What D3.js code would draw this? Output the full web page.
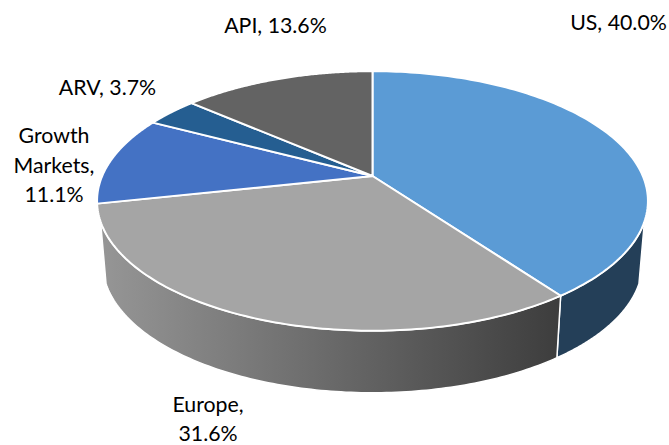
<!DOCTYPE html>
<html>
<head>
<meta charset="utf-8">
<script src="https://cdn.jsdelivr.net/npm/d3@7"></script>
<style>
  html, body { margin: 0; padding: 0; background: #fff; }
  text { font-family: Lato, "Open Sans", sans-serif; font-size: 21.3px; fill: #000; }
</style>
</head>
<body>
<div id="chart"></div>
<script>
const categories = ["US", "Europe", "Growth Markets", "ARV", "API"];
const shares = [40.0, 31.6, 11.1, 3.7, 13.6];
const topColors = ["#5b9bd5", "#a5a5a5", "#4472c4", "#255e91", "#636363"];
const labelLines = [["US, 40.0%"], ["Europe,", "31.6%"], ["Growth", "Markets,", "11.1%"], ["ARV, 3.7%"], ["API, 13.6%"]];

const width = 669, height = 445;
const cx = 372.5, cy = 176;
const rx = 270.3, ry = 125, tilt = 0.1923;
const depth = 62, baseScale = 0.98;

const svg = d3.select("#chart").append("svg")
    .attr("width", width)
    .attr("height", height);

const defs = svg.append("defs");
const grad = defs.append("linearGradient")
    .attr("id", "europeSide")
    .attr("gradientUnits", "userSpaceOnUse")
    .attr("x1", 100).attr("x2", 555).attr("y1", 0).attr("y2", 0);
grad.append("stop").attr("offset", "0%").attr("stop-color", "#969696");
grad.append("stop").attr("offset", "100%").attr("stop-color", "#3e3e3e");

// perspective view of the pie: near edge is stretched, pivot stays off-centre
function rim(a) {
  const u = Math.sin(a), v = -Math.cos(a), w = 1 - tilt * v;
  return [cx + rx * u / w, cy + ry * v / w];
}
function baseRim(a) {
  const p = rim(a);
  return [cx + (p[0] - cx) * baseScale, p[1] + depth];
}
const steps = (a0, a1) => d3.range(0, 121).map(i => d3.interpolateNumber(a0, a1)(i / 120));
const line = d3.line();

const arcs = d3.pie().sort(null).value(d => d)(shares);

// side walls, only US and Europe face the viewer
const sideColors = ["#243f58", "url(#europeSide)"];
const sideStart = [Math.PI * 0.611, arcs[1].startAngle];
const sideEnd = [arcs[0].endAngle, Math.PI * 1.389];

svg.selectAll(".side")
  .data([0, 1])
  .enter().append("path")
    .attr("class", "side")
    .attr("fill", i => sideColors[i])
    .attr("stroke", "#fff")
    .attr("stroke-width", 1.5)
    .attr("stroke-linejoin", "round")
    .attr("d", i => {
      const top = steps(sideStart[i], sideEnd[i]).map(rim);
      const bottom = steps(sideEnd[i], sideStart[i]).map(baseRim);
      return line(top.concat(bottom)) + "Z";
    });

svg.selectAll(".slice")
  .data(arcs)
  .enter().append("path")
    .attr("class", "slice")
    .attr("fill", (d, i) => topColors[i])
    .attr("stroke", "#fff")
    .attr("stroke-width", 2)
    .attr("stroke-linejoin", "round")
    .attr("d", d => line([[cx, cy]].concat(steps(d.startAngle, d.endAngle).map(rim))) + "Z");

const labelX = [618.5, 208, 54, 107.5, 275.5];
const labelY = [30, 412, 143, 95, 33];
const lineH = [0, 28.5, 29.5, 0, 0];

const label = svg.selectAll(".label")
  .data(labelLines)
  .enter().append("text")
    .attr("class", "label")
    .attr("text-anchor", "middle");

label.selectAll("tspan")
  .data((d, i) => d.map(t => ({ t, i })))
  .enter().append("tspan")
    .attr("x", d => labelX[d.i])
    .attr("y", (d, j) => labelY[d.i] + j * lineH[d.i])
    .text(d => d.t);
</script>
</body>
</html>
